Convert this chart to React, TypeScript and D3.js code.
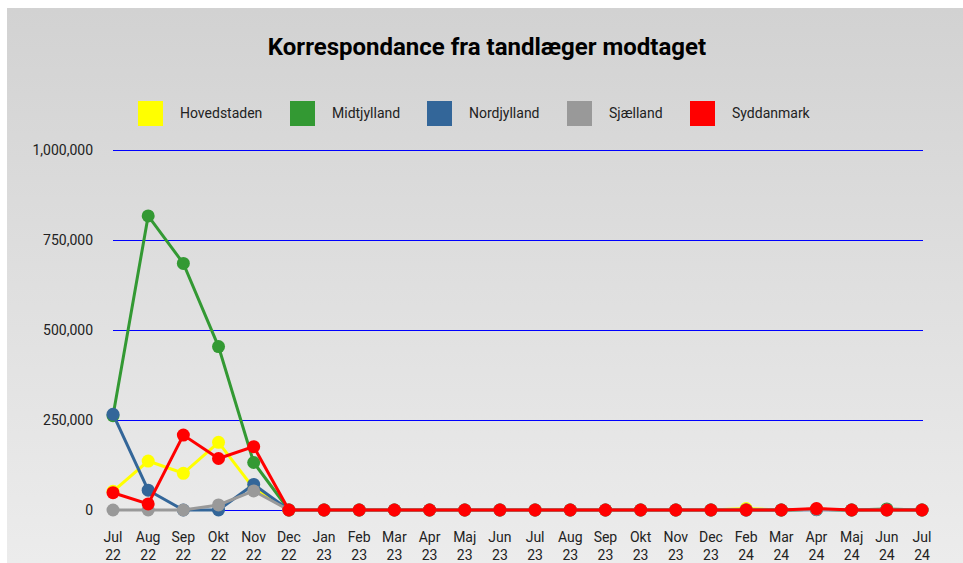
import * as d3 from 'd3'
import { useEffect, useRef } from 'react'

const months = ['Jul', 'Aug', 'Sep', 'Okt', 'Nov', 'Dec',
  'Jan', 'Feb', 'Mar', 'Apr', 'Maj', 'Jun', 'Jul', 'Aug', 'Sep', 'Okt', 'Nov', 'Dec',
  'Feb', 'Mar', 'Apr', 'Maj', 'Jun', 'Jul']
const years = ['22', '22', '22', '22', '22', '22',
  '23', '23', '23', '23', '23', '23', '23', '23', '23', '23', '23', '23',
  '24', '24', '24', '24', '24', '24']

const hovedstaden = [52000, 136000, 102000, 188000, 60000, 0, 0, 0, 0, 0, 0, 0, 0, 0, 0, 0, 0, 0, 4000, 0, 2000, 0, 0, 0]
const midtjylland = [262000, 817000, 685000, 454000, 132000, 0, 0, 0, 0, 0, 0, 0, 0, 0, 0, 0, 0, 0, 0, 0, 2000, 0, 3000, 0]
const nordjylland = [266000, 55000, 0, 0, 71000, 0, 0, 0, 0, 0, 0, 0, 0, 0, 0, 0, 0, 0, 0, 0, 1000, 0, 0, 0]
const sjaelland = [0, 0, 0, 14000, 53000, 0, 0, 0, 0, 0, 0, 0, 0, 0, 0, 0, 0, 0, 0, 0, 2000, 0, 0, 0]
const syddanmark = [48000, 17000, 208000, 143000, 176000, 0, 0, 0, 0, 0, 0, 0, 0, 0, 0, 0, 0, 0, 0, 0, 4000, 0, 0, 0]

const seriesNames = ['Hovedstaden', 'Midtjylland', 'Nordjylland', 'Sjælland', 'Syddanmark']
const seriesColors = ['#ffff00', '#339933', '#336699', '#999999', '#ff0000']
const seriesValues = [hovedstaden, midtjylland, nordjylland, sjaelland, syddanmark]
const yTicks = [0, 250000, 500000, 750000, 1000000]

const legendX = [138, 290, 427, 567, 690]

export default function App() {
  const svgRef = useRef<SVGSVGElement>(null)

  useEffect(() => {
    const w = 963
    const h = 563
    const svg = d3.select(svgRef.current)
    svg.selectAll('*').remove()
    svg.attr('width', w).attr('height', h)
       .style('display', 'block')
       .style('font-family', 'Roboto, sans-serif')

    const defs = svg.append('defs')
    const grad = defs.append('linearGradient')
                     .attr('id', 'bg')
                     .attr('x1', 0).attr('y1', 0).attr('x2', 0).attr('y2', 1)
    grad.append('stop').attr('offset', '0%').attr('stop-color', '#d2d2d2')
    grad.append('stop').attr('offset', '100%').attr('stop-color', '#ececec')

    svg.append('rect')
       .attr('x', 7).attr('y', 8)
       .attr('width', w - 7).attr('height', h - 8)
       .attr('fill', 'url(#bg)')

    const xScale = d3.scalePoint<number>()
                     .domain(d3.range(months.length))
                     .range([113, 922])

    const yScale = d3.scaleLinear()
                     .domain([0, 1000000])
                     .range([510, 150])

    // grid
    svg.append('g')
       .selectAll('line')
       .data(yTicks)
       .join('line')
       .attr('x1', 113)
       .attr('x2', 923)
       .attr('y1', d => Math.round(yScale(d)) + 0.5)
       .attr('y2', d => Math.round(yScale(d)) + 0.5)
       .attr('stroke', '#0000ff')
       .attr('stroke-width', 1)
       .attr('shape-rendering', 'crispEdges')

    const yAxis = d3.axisLeft(yScale)
                    .tickValues(yTicks)
                    .tickFormat(d3.format(','))
                    .tickSize(0)
                    .tickPadding(0)
    const yg = svg.append('g')
                  .attr('transform', 'translate(93,0)')
                  .call(yAxis)
    yg.select('.domain').remove()
    yg.selectAll('text')
      .attr('font-size', 14)
      .attr('font-family', 'Roboto, sans-serif')
      .attr('fill', '#222')

    // x labels, two lines
    const xg = svg.append('g')
    const xl = xg.selectAll('text')
                 .data(d3.range(months.length))
                 .join('text')
                 .attr('text-anchor', 'middle')
                 .attr('font-size', 14)
                 .attr('fill', '#222')
    xl.append('tspan')
      .attr('x', i => xScale(i))
      .attr('y', 542)
      .text(i => months[i])
    xl.append('tspan')
      .attr('x', i => xScale(i))
      .attr('y', 560)
      .text(i => years[i])

    const line = d3.line<number>()
                   .x((d, i) => xScale(i))
                   .y(d => yScale(d))

    seriesValues.forEach((vals, si) => {
      const g = svg.append('g')
      g.append('path')
       .datum(vals)
       .attr('fill', 'none')
       .attr('stroke', seriesColors[si])
       .attr('stroke-width', 3)
       .attr('d', line)
      g.selectAll('circle')
       .data(vals)
       .join('circle')
       .attr('cx', (d, i) => xScale(i))
       .attr('cy', d => yScale(d))
       .attr('r', 6.5)
       .attr('fill', seriesColors[si])
    })

    // title
    svg.append('text')
       .attr('x', 487)
       .attr('y', 55)
       .attr('text-anchor', 'middle')
       .attr('font-size', 24)
       .attr('font-weight', 'bold')
       .attr('fill', '#000')
       .text('Korrespondance fra tandlæger modtaget')

    // legend
    const lg = svg.append('g')
    seriesNames.forEach((name, i) => {
      lg.append('rect')
        .attr('x', legendX[i])
        .attr('y', 101)
        .attr('width', 25)
        .attr('height', 25)
        .attr('fill', seriesColors[i])
      lg.append('text')
        .attr('x', legendX[i] + 42)
        .attr('y', 118)
        .attr('font-size', 14)
        .attr('fill', '#222')
        .text(name)
    })
  }, [])

  return <svg ref={svgRef} style={{ position: 'absolute', left: 0, top: 0 }} />
}
